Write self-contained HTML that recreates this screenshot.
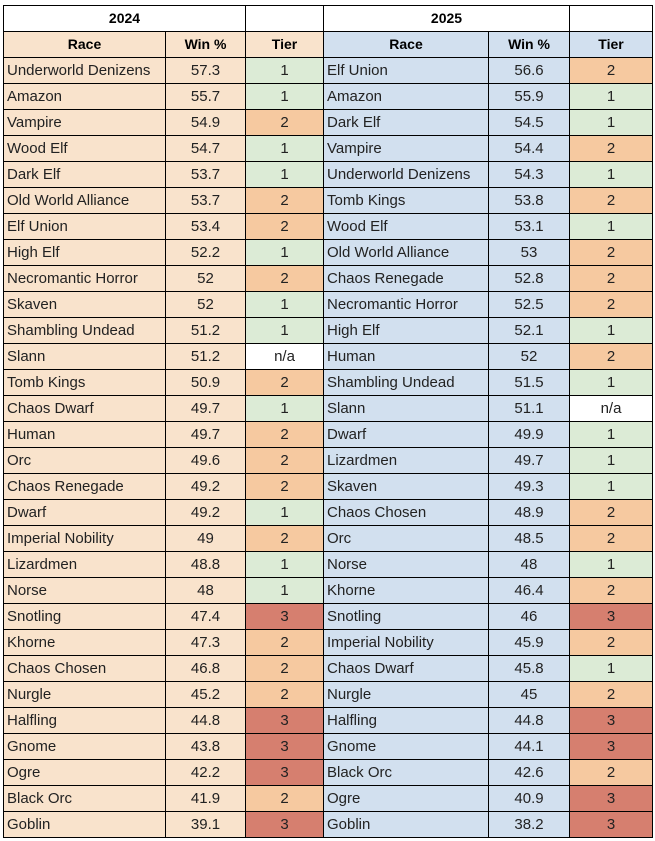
<!DOCTYPE html>
<html><head><style>
body{margin:0;background:#fff;width:655px;height:841px;overflow:hidden;font-family:"Liberation Sans",sans-serif;}
table{position:absolute;left:3px;top:5px;border-collapse:collapse;table-layout:fixed;}
td{border:1px solid #000;height:25px;padding:0;font-size:15px;color:#222;text-align:center;white-space:nowrap;overflow:hidden;line-height:25px;}
td.r{text-align:left;padding-left:3px;}
tr.h td{font-weight:bold;font-size:14px;color:#000;}
.p{background:#F9E3CC}.b{background:#D2E0EF}.g{background:#DCEBD6}.o{background:#F6C9A0}.x{background:#D67F6F}.w{background:#fff}
</style></head><body>
<table>
<colgroup><col style="width:162px"><col style="width:80px"><col style="width:78px"><col style="width:165px"><col style="width:81px"><col style="width:83px"></colgroup>
<tr class="h"><td colspan="2" class="w">2024</td><td class="w"></td><td colspan="2" class="w">2025</td><td class="w"></td></tr>
<tr class="h"><td class="p">Race</td><td class="p">Win %</td><td class="p">Tier</td><td class="b">Race</td><td class="b">Win %</td><td class="b">Tier</td></tr>
<tr><td class="r p">Underworld Denizens</td><td class="p">57.3</td><td class="g">1</td><td class="r b">Elf Union</td><td class="b">56.6</td><td class="o">2</td></tr>
<tr><td class="r p">Amazon</td><td class="p">55.7</td><td class="g">1</td><td class="r b">Amazon</td><td class="b">55.9</td><td class="g">1</td></tr>
<tr><td class="r p">Vampire</td><td class="p">54.9</td><td class="o">2</td><td class="r b">Dark Elf</td><td class="b">54.5</td><td class="g">1</td></tr>
<tr><td class="r p">Wood Elf</td><td class="p">54.7</td><td class="g">1</td><td class="r b">Vampire</td><td class="b">54.4</td><td class="o">2</td></tr>
<tr><td class="r p">Dark Elf</td><td class="p">53.7</td><td class="g">1</td><td class="r b">Underworld Denizens</td><td class="b">54.3</td><td class="g">1</td></tr>
<tr><td class="r p">Old World Alliance</td><td class="p">53.7</td><td class="o">2</td><td class="r b">Tomb Kings</td><td class="b">53.8</td><td class="o">2</td></tr>
<tr><td class="r p">Elf Union</td><td class="p">53.4</td><td class="o">2</td><td class="r b">Wood Elf</td><td class="b">53.1</td><td class="g">1</td></tr>
<tr><td class="r p">High Elf</td><td class="p">52.2</td><td class="g">1</td><td class="r b">Old World Alliance</td><td class="b">53</td><td class="o">2</td></tr>
<tr><td class="r p">Necromantic Horror</td><td class="p">52</td><td class="o">2</td><td class="r b">Chaos Renegade</td><td class="b">52.8</td><td class="o">2</td></tr>
<tr><td class="r p">Skaven</td><td class="p">52</td><td class="g">1</td><td class="r b">Necromantic Horror</td><td class="b">52.5</td><td class="o">2</td></tr>
<tr><td class="r p">Shambling Undead</td><td class="p">51.2</td><td class="g">1</td><td class="r b">High Elf</td><td class="b">52.1</td><td class="g">1</td></tr>
<tr><td class="r p">Slann</td><td class="p">51.2</td><td class="w">n/a</td><td class="r b">Human</td><td class="b">52</td><td class="o">2</td></tr>
<tr><td class="r p">Tomb Kings</td><td class="p">50.9</td><td class="o">2</td><td class="r b">Shambling Undead</td><td class="b">51.5</td><td class="g">1</td></tr>
<tr><td class="r p">Chaos Dwarf</td><td class="p">49.7</td><td class="g">1</td><td class="r b">Slann</td><td class="b">51.1</td><td class="w">n/a</td></tr>
<tr><td class="r p">Human</td><td class="p">49.7</td><td class="o">2</td><td class="r b">Dwarf</td><td class="b">49.9</td><td class="g">1</td></tr>
<tr><td class="r p">Orc</td><td class="p">49.6</td><td class="o">2</td><td class="r b">Lizardmen</td><td class="b">49.7</td><td class="g">1</td></tr>
<tr><td class="r p">Chaos Renegade</td><td class="p">49.2</td><td class="o">2</td><td class="r b">Skaven</td><td class="b">49.3</td><td class="g">1</td></tr>
<tr><td class="r p">Dwarf</td><td class="p">49.2</td><td class="g">1</td><td class="r b">Chaos Chosen</td><td class="b">48.9</td><td class="o">2</td></tr>
<tr><td class="r p">Imperial Nobility</td><td class="p">49</td><td class="o">2</td><td class="r b">Orc</td><td class="b">48.5</td><td class="o">2</td></tr>
<tr><td class="r p">Lizardmen</td><td class="p">48.8</td><td class="g">1</td><td class="r b">Norse</td><td class="b">48</td><td class="g">1</td></tr>
<tr><td class="r p">Norse</td><td class="p">48</td><td class="g">1</td><td class="r b">Khorne</td><td class="b">46.4</td><td class="o">2</td></tr>
<tr><td class="r p">Snotling</td><td class="p">47.4</td><td class="x">3</td><td class="r b">Snotling</td><td class="b">46</td><td class="x">3</td></tr>
<tr><td class="r p">Khorne</td><td class="p">47.3</td><td class="o">2</td><td class="r b">Imperial Nobility</td><td class="b">45.9</td><td class="o">2</td></tr>
<tr><td class="r p">Chaos Chosen</td><td class="p">46.8</td><td class="o">2</td><td class="r b">Chaos Dwarf</td><td class="b">45.8</td><td class="g">1</td></tr>
<tr><td class="r p">Nurgle</td><td class="p">45.2</td><td class="o">2</td><td class="r b">Nurgle</td><td class="b">45</td><td class="o">2</td></tr>
<tr><td class="r p">Halfling</td><td class="p">44.8</td><td class="x">3</td><td class="r b">Halfling</td><td class="b">44.8</td><td class="x">3</td></tr>
<tr><td class="r p">Gnome</td><td class="p">43.8</td><td class="x">3</td><td class="r b">Gnome</td><td class="b">44.1</td><td class="x">3</td></tr>
<tr><td class="r p">Ogre</td><td class="p">42.2</td><td class="x">3</td><td class="r b">Black Orc</td><td class="b">42.6</td><td class="o">2</td></tr>
<tr><td class="r p">Black Orc</td><td class="p">41.9</td><td class="o">2</td><td class="r b">Ogre</td><td class="b">40.9</td><td class="x">3</td></tr>
<tr><td class="r p">Goblin</td><td class="p">39.1</td><td class="x">3</td><td class="r b">Goblin</td><td class="b">38.2</td><td class="x">3</td></tr>
</table>
</body></html>
